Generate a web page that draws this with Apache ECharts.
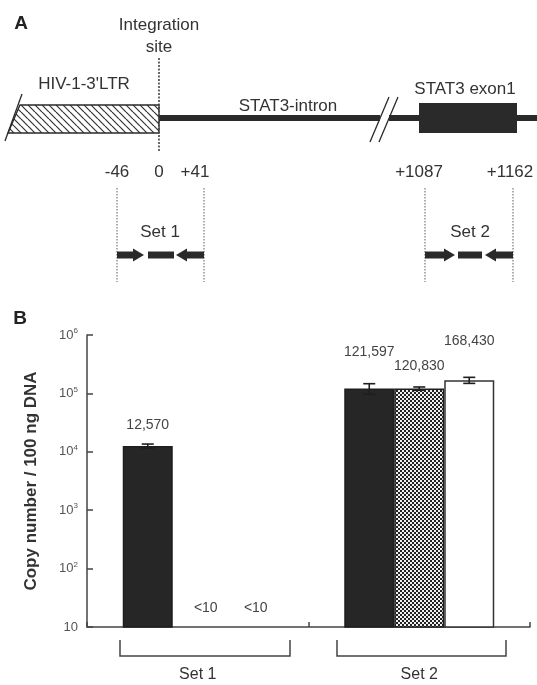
<!DOCTYPE html>
<html>
<head>
<meta charset="utf-8">
<script src="https://cdn.jsdelivr.net/npm/echarts@6/dist/echarts.min.js"></script>
<style>
html,body{margin:0;padding:0;background:#fff;}
#c{width:537px;height:685px;}
</style>
</head>
<body>
<div id="c"></div>
<script>
// ---------------- DATA ----------------
const categories = ['Set 1', 'Set 2'];
// copy number / 100 ng DNA ; 10 = below detection limit ("<10")
const seriesDark    = [12570, 121597];
const seriesChecker = [10, 120830];
const seriesWhite   = [10, 168430];
// error bar half-lengths (0 = none)
const errDark    = [1000, 25000];
const errChecker = [0, 8000];
const errWhite   = [0, 20000];
// y tick exponents (10^1 .. 10^6)
const yMinExp = 1;
const yMaxExp = 6;
// panel A labels
const positionLabels = ['-46', '0', '+41', '+1087', '+1162'];
const primerSets = ['Set 1', 'Set 2'];

// ---------------- STYLE ----------------
const FONT = '"Liberation Sans", Arial, sans-serif';
const INK = '#2a2a2a';
const TXT = '#333';
const AX = '#444';
const BAR_W = 50;
const DETECTION_LIMIT = 10;

function makeChecker() {
  const c = document.createElement('canvas');
  c.width = 4; c.height = 4;
  const g = c.getContext('2d');
  g.fillStyle = '#222'; g.fillRect(0, 0, 4, 4);
  g.fillStyle = '#f2f2f2';
  g.fillRect(0, 0, 2, 2); g.fillRect(2, 2, 2, 2);
  return c;
}
function makeHatch() {
  const s = 7;
  const c = document.createElement('canvas');
  c.width = s; c.height = s;
  const g = c.getContext('2d');
  g.fillStyle = '#fff'; g.fillRect(0, 0, s, s);
  g.strokeStyle = '#333'; g.lineWidth = 1.2;
  for (let k = -1; k <= 1; k++) {
    g.beginPath(); g.moveTo(k * s, 0); g.lineTo(k * s + s, s); g.stroke();
  }
  return c;
}

// label gaps above bars (px), per series / category
const labelGapDark = [14, 29];
const labelGapChecker = [12, 15];
const labelGapWhite = [12, 32];

function fmt(v) { return v <= DETECTION_LIMIT ? '<10' : v.toLocaleString('en-US'); }

function barData(vals, gaps) {
  return vals.map((v, i) => ({
    value: v,
    label: { show: v > DETECTION_LIMIT, distance: gaps[i] }
  }));
}

function barSeries(name, vals, gaps, color, border) {
  return {
    type: 'bar', name: name,
    data: barData(vals, gaps),
    barWidth: BAR_W, barGap: '0%',
    itemStyle: { color: color, borderColor: border, borderWidth: 1.5 },
    label: {
      show: true, position: 'top', formatter: p => fmt(p.value),
      fontFamily: FONT, fontSize: 14, color: '#444'
    },
    z: 2
  };
}

function errorSeries(vals, errs, offset) {
  const data = [];
  vals.forEach((v, i) => { if (errs[i] > 0) data.push([i, v - errs[i], v + errs[i]]); });
  return {
    type: 'custom', z: 5, silent: true,
    data: data,
    encode: { x: 0, y: [1, 2] },
    renderItem: function (params, api) {
      const idx = api.value(0);
      const pLo = api.coord([idx, api.value(1)]);
      const pHi = api.coord([idx, api.value(2)]);
      const x = pLo[0] + offset;
      const hw = 6;
      const st = { stroke: '#1e1e1e', lineWidth: 1.6 };
      return {
        type: 'group', children: [
          { type: 'line', shape: { x1: x, y1: pHi[1], x2: x, y2: pLo[1] }, style: st },
          { type: 'line', shape: { x1: x - hw, y1: pHi[1], x2: x + hw, y2: pHi[1] }, style: st },
          { type: 'line', shape: { x1: x - hw, y1: pLo[1], x2: x + hw, y2: pLo[1] }, style: st }
        ]
      };
    }
  };
}

// "<10" labels for values under the detection limit
function lodSeries(vals, offset) {
  const data = [];
  vals.forEach((v, i) => { if (v <= DETECTION_LIMIT) data.push([i, v]); });
  return {
    type: 'custom', z: 6, silent: true,
    data: data,
    encode: { x: 0, y: 1 },
    renderItem: function (params, api) {
      const p = api.coord([api.value(0), api.value(1)]);
      return {
        type: 'text', x: p[0] + offset + 8, y: p[1] - 19,
        style: {
          text: fmt(api.value(1)), font: '14px ' + FONT, fill: '#444',
          align: 'center', verticalAlign: 'middle'
        }
      };
    }
  };
}

// ---------------- PANEL A (schematic) ----------------
function T(text, x, y, size, bold, color) {
  return {
    type: 'text', x: x, y: y,
    style: {
      text: text, fill: color || TXT,
      font: (bold ? 'bold ' : '') + size + 'px ' + FONT,
      align: 'center', verticalAlign: 'middle'
    }
  };
}
function L(x1, y1, x2, y2, w, color, dash) {
  return {
    type: 'line', shape: { x1: x1, y1: y1, x2: x2, y2: y2 },
    style: { stroke: color || INK, lineWidth: w, lineDash: dash || null }
  };
}
function arrowRight(x0, tip, y) {
  const base = tip - 11;
  return [
    { type: 'rect', shape: { x: x0, y: y - 3.5, width: base - x0, height: 7 }, style: { fill: INK } },
    { type: 'polygon', shape: { points: [[base, y - 6.5], [tip, y], [base, y + 6.5]] }, style: { fill: INK } }
  ];
}
function arrowLeft(x1, tip, y) {
  const base = tip + 11;
  return [
    { type: 'rect', shape: { x: base, y: y - 3.5, width: x1 - base, height: 7 }, style: { fill: INK } },
    { type: 'polygon', shape: { points: [[base, y - 6.5], [tip, y], [base, y + 6.5]] }, style: { fill: INK } }
  ];
}
function dash(x0, x1, y) {
  return { type: 'rect', shape: { x: x0, y: y - 3.5, width: x1 - x0, height: 7 }, style: { fill: INK } };
}

const posX = [117, 159, 195, 419, 510];
const primerLineX = [117, 204, 425, 513];

const graphics = [];
graphics.push(T('A', 21, 24, 19, true, '#222'));
graphics.push(T('Integration', 159, 25, 17));
graphics.push(T('site', 159, 47, 17));
graphics.push(T("HIV-1-3'LTR", 84, 84, 17));
graphics.push(T('STAT3-intron', 288, 106, 17));
graphics.push(T('STAT3 exon1', 465, 89, 17));
// intron line with break
graphics.push(L(159, 118, 380, 118, 6));
graphics.push(L(389, 118, 537, 118, 6));
graphics.push(L(370, 142, 389, 97, 1.3));
graphics.push(L(379, 142, 398, 97, 1.3));
// hatched LTR
graphics.push({
  type: 'polygon',
  shape: { points: [[20, 105], [159, 105], [159, 133], [8, 133]] },
  style: { fill: { image: makeHatch(), repeat: 'repeat' }, stroke: INK, lineWidth: 1.3 }
});
graphics.push(L(5, 141, 22, 94, 1.3));
// exon box
graphics.push({ type: 'rect', shape: { x: 419, y: 103, width: 98, height: 30 }, style: { fill: INK } });
// integration site dotted line
graphics.push(L(159, 58, 159, 152, 1.6, '#444', [2, 1.5]));
// position labels
positionLabels.forEach((s, i) => graphics.push(T(s, posX[i], 172, 17)));
primerLineX.forEach(x => graphics.push(L(x, 188, x, 282, 1.2, '#777', [1.5, 1.5])));
// primer sets
graphics.push(T(primerSets[0], 160, 232, 17));
graphics.push(T(primerSets[1], 470, 232, 17));
arrowRight(117, 144, 255).forEach(g => graphics.push(g));
graphics.push(dash(148, 174, 255));
arrowLeft(204, 176, 255).forEach(g => graphics.push(g));
arrowRight(425, 455, 255).forEach(g => graphics.push(g));
graphics.push(dash(458, 482, 255));
arrowLeft(513, 485, 255).forEach(g => graphics.push(g));

// ---------------- PANEL B extras ----------------
graphics.push(T('B', 20, 319, 19, true, '#222'));
graphics.push({
  type: 'polyline', shape: { points: [[120, 640], [120, 656], [290, 656], [290, 640]] },
  style: { stroke: AX, lineWidth: 1.5, fill: null }
});
graphics.push({
  type: 'polyline', shape: { points: [[337, 640], [337, 656], [506, 656], [506, 640]] },
  style: { stroke: AX, lineWidth: 1.5, fill: null }
});

const chart = echarts.init(document.getElementById('c'), null, { renderer: 'canvas' });
chart.setOption({
  backgroundColor: '#fff',
  animation: false,
  grid: { left: 87, right: 7, top: 335, bottom: 58, containLabel: false },
  xAxis: {
    type: 'category', data: categories,
    axisLine: { lineStyle: { color: AX, width: 1.5 } },
    axisTick: { show: true, inside: true, length: 5, lineStyle: { color: AX, width: 1.5 } },
    axisLabel: { margin: 40, fontFamily: FONT, fontSize: 16, color: TXT }
  },
  yAxis: {
    type: 'log', logBase: 10,
    min: Math.pow(10, yMinExp), max: Math.pow(10, yMaxExp),
    name: 'Copy number / 100 ng DNA', nameLocation: 'middle', nameGap: 47,
    nameTextStyle: { fontFamily: FONT, fontSize: 17, fontWeight: 'bold', color: TXT },
    axisLine: { show: true, lineStyle: { color: AX, width: 1.5 } },
    axisTick: { show: true, inside: true, length: 6, lineStyle: { color: AX, width: 1.5 } },
    splitLine: { show: false },
    minorTick: { show: false },
    axisLabel: {
      margin: 9,
      formatter: v => {
        const e = Math.round(Math.log10(v));
        return e === 1 ? '{b|10}' : '{b|10}{s|' + e + '}';
      },
      rich: {
        b: { fontFamily: FONT, fontSize: 13, color: '#555', lineHeight: 16 },
        s: { fontFamily: FONT, fontSize: 8, color: '#555', lineHeight: 9, verticalAlign: 'top' }
      }
    }
  },
  series: [
    barSeries('dark', seriesDark, labelGapDark, '#262626', '#1e1e1e'),
    barSeries('checker', seriesChecker, labelGapChecker, { image: makeChecker(), repeat: 'repeat' }, '#1e1e1e'),
    barSeries('white', seriesWhite, labelGapWhite, '#ffffff', '#333'),
    errorSeries(seriesDark, errDark, -BAR_W),
    errorSeries(seriesChecker, errChecker, 0),
    errorSeries(seriesWhite, errWhite, BAR_W),
    lodSeries(seriesChecker, 0),
    lodSeries(seriesWhite, BAR_W)
  ],
  graphic: graphics
});
</script>
</body>
</html>
